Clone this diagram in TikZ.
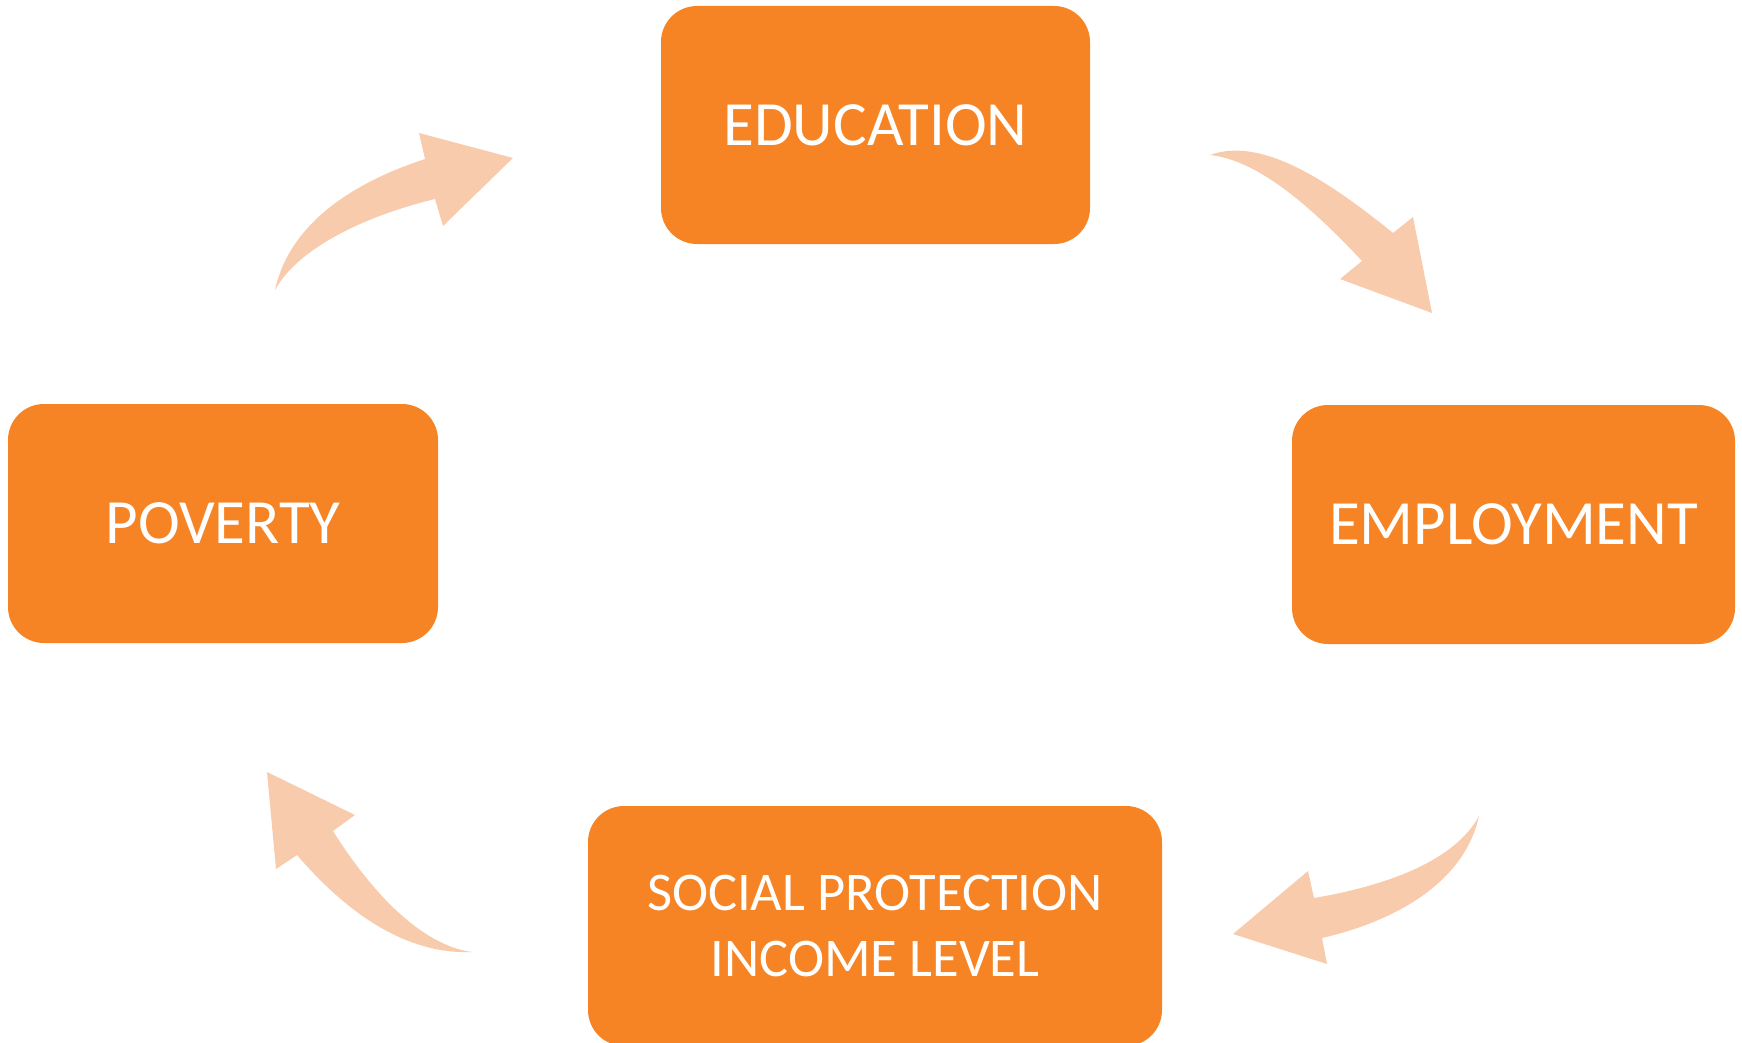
\documentclass[tikz,border=0pt]{standalone}
\usepackage{fontspec}
\setmainfont{Carlito}
\usepackage{tikz}

\definecolor{boxorange}{RGB}{246,132,36}
\definecolor{arrowpeach}{RGB}{248,203,173}

\tikzset{
  stage/.style={draw=none, fill=boxorange, rounded corners=36pt, text=white,
    inner sep=0pt, align=center, font=\fontsize{63}{75}\selectfont},
  flow/.style={fill=arrowpeach, draw=none}
}

\begin{document}
\begin{tikzpicture}[x=1pt,y=-1pt]
      \useasboundingbox (0,0) rectangle (1742,1043);
      \clip (0,0) rectangle (1742,1043);
      \node[stage, minimum width=429pt, minimum height=238pt] (education) at (875.5,125) {EDUCATION};
      \node[stage, minimum width=443pt, minimum height=239pt] (employment) at (1513.5,524.5) {EMPLOYMENT};
      \node[stage, minimum width=574pt, minimum height=240pt,
        font=\fontsize{54.5}{66}\selectfont] (social) at (875,926) {SOCIAL PROTECTION\\INCOME LEVEL};
      \node[stage, minimum width=430pt, minimum height=239pt] (poverty) at (223,523.5) {POVERTY};
      % poverty to education
      \fill[flow] (275,290) .. controls (290,222) and (355,182) .. (425,159)
      -- (419,133) -- (513,158) -- (443,226) -- (435,199)
      .. controls (365,216) and (298,248) .. cycle;
      % education to employment
      \fill[flow] (1210,155) .. controls (1262,136) and (1330,182) .. (1393,233)
      -- (1413,217) -- (1432,313) -- (1340,279) -- (1362,261)
      .. controls (1305,200) and (1255,160) .. cycle;
      % employment to social protection
      \fill[flow] (1479,816) .. controls (1455,860) and (1390,885) .. (1314,898)
      -- (1308,871) -- (1233,934) -- (1327,964) -- (1322,938)
      .. controls (1400,920) and (1465,880) .. cycle;
      % social protection to poverty
      \fill[flow] (267,772) -- (355,815) -- (333,831)
      .. controls (370,890) and (420,945) .. (472,952)
      .. controls (400,955) and (340,905) .. (297,855)
      -- (276,869) -- cycle;
\end{tikzpicture}
\end{document}
